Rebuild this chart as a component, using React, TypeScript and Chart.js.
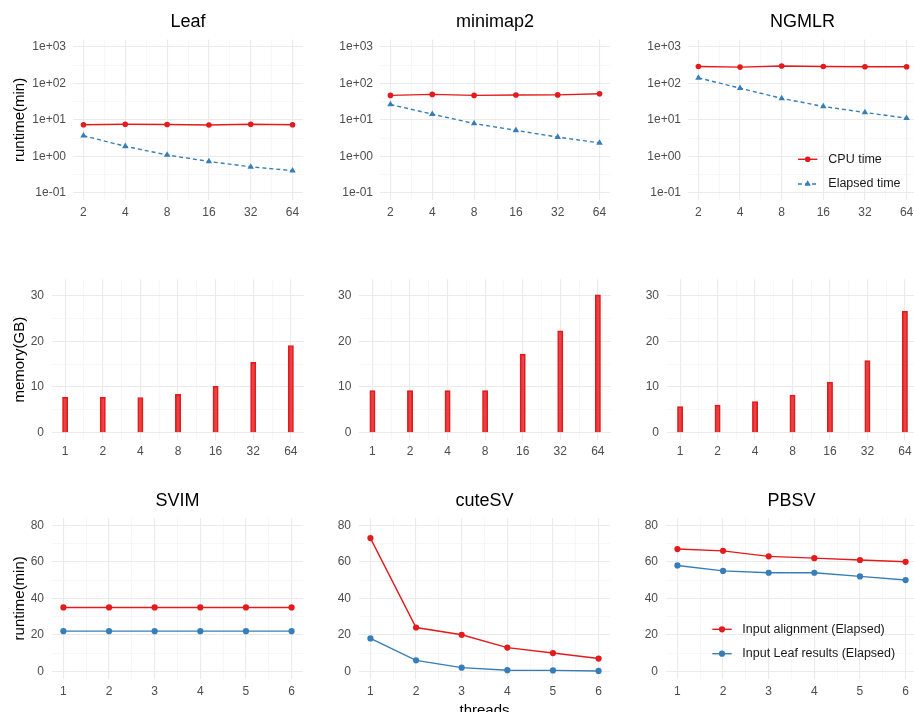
import React, { useEffect, useRef } from 'react';
import { Chart, registerables } from 'chart.js';

Chart.register(...registerables);

const FONT = "'Liberation Sans', Arial, Helvetica, sans-serif";
Chart.defaults.font.family = FONT;

const RED = '#E41A1C';
const BLUE = '#377EB8';
const RED_FILL = 'rgba(228, 26, 28, 0.82)';
const GRID_MAJOR = '#EBEBEB';
const GRID_MINOR = '#F4F4F4';
const TICK_COLOR = '#4D4D4D';

// ---------------- data ----------------
const runtimeThreads = [2, 4, 8, 16, 32, 64];
const memoryThreads = [1, 2, 4, 8, 16, 32, 64];
const svThreads = [1, 2, 3, 4, 5, 6];

const leafCpuTime = [7.4, 7.6, 7.5, 7.3, 7.6, 7.4];
const leafElapsedTime = [3.7, 1.9, 1.1, 0.73, 0.52, 0.41];
const minimap2CpuTime = [47, 50, 47, 48, 48.5, 52];
const minimap2ElapsedTime = [26.5, 14.4, 8.0, 5.2, 3.4, 2.35];
const ngmlrCpuTime = [292, 280, 300, 290, 285, 285];
const ngmlrElapsedTime = [142, 74, 39, 23.4, 16, 11.2];

const leafMemory = [7.75, 7.75, 7.7, 8.4, 10.15, 15.4, 19.1];
const minimap2Memory = [9.2, 9.2, 9.2, 9.2, 17.2, 22.3, 30.2];
const ngmlrMemory = [5.7, 6.05, 6.8, 8.25, 11.1, 15.8, 26.6];

const svimAlignment = [35, 35, 35, 35, 35, 35];
const svimLeaf = [22, 22, 22, 22, 22, 22];
const cutesvAlignment = [73, 24, 20, 13, 10, 7];
const cutesvLeaf = [18, 6, 2, 0.6, 0.5, 0.2];
const pbsvAlignment = [67, 66, 63, 62, 61, 60];
const pbsvLeaf = [58, 55, 54, 54, 52, 50];

const runtimeLogTicks = [0.1, 1, 10, 100, 1000];
const runtimeLogTickLabels = ['1e-01', '1e+00', '1e+01', '1e+02', '1e+03'];
const memoryTicks = [0, 10, 20, 30];
const svRuntimeTicks = [0, 20, 40, 60, 80];

const alignerTitles = ['Leaf', 'minimap2', 'NGMLR'];
const svTitles = ['SVIM', 'cuteSV', 'PBSV'];
const runtimeSeriesLabels = ['CPU time', 'Elapsed time'];
const svSeriesLabels = ['Input alignment (Elapsed)', 'Input Leaf results (Elapsed)'];
const runtimeAxisTitle = 'runtime(min)';
const memoryAxisTitle = 'memory(GB)';
const threadsAxisTitle = 'threads';

const alignerCpu = [leafCpuTime, minimap2CpuTime, ngmlrCpuTime];
const alignerElapsed = [leafElapsedTime, minimap2ElapsedTime, ngmlrElapsedTime];
const alignerMemory = [leafMemory, minimap2Memory, ngmlrMemory];
const svAlignment = [svimAlignment, cutesvAlignment, pbsvAlignment];
const svLeaf = [svimLeaf, cutesvLeaf, pbsvLeaf];

// ---------------- layout ----------------
const COL_LEFT = [0, 307, 614];
const PANEL_W = 307;
const ROW_TOP = [0, 240, 470];
const ROW_H = [240, 230, 260];

type TickSpec = { value: number; major: boolean; text: string };

function withMinor(major: number[], labels: string[], log: boolean): TickSpec[] {
  const out: TickSpec[] = [];
  major.forEach((v, i) => {
    out.push({ value: v, major: true, text: labels[i] });
    if (i < major.length - 1) {
      const n = major[i + 1];
      out.push({ value: log ? Math.sqrt(v * n) : (v + n) / 2, major: false, text: '' });
    }
  });
  return out;
}

function axis(o: {
  type: string;
  min: number;
  max: number;
  ticks: TickSpec[];
  horizontal: boolean;
  size: number;
  padding: number;
  title?: any;
}) {
  return {
    type: o.type,
    min: o.min,
    max: o.max,
    offset: false,
    afterBuildTicks: (scale: any) => {
      scale.ticks = o.ticks.map((t) => ({ ...t }));
    },
    afterFit: (scale: any) => {
      if (o.horizontal) scale.height = o.size;
      else scale.width = o.size;
    },
    grid: {
      color: (ctx: any) => (ctx.tick && ctx.tick.major ? GRID_MAJOR : GRID_MINOR),
      lineWidth: (ctx: any) => (ctx.tick && ctx.tick.major ? 1.1 : 0.7),
      drawTicks: false,
      offset: false,
    },
    border: { display: false },
    ticks: {
      autoSkip: false,
      maxRotation: 0,
      minRotation: 0,
      padding: o.padding,
      color: TICK_COLOR,
      font: { family: FONT, size: 12 },
      callback: (_v: any, i: number, ticks: any[]) => (ticks[i] && ticks[i].text) || '',
    },
    title: o.title || { display: false },
  };
}

const centerTitle = {
  id: 'centerTitle',
  afterLayout(chart: any) {
    const t = chart.titleBlock;
    if (t && chart.chartArea) {
      t.left = chart.chartArea.left;
      t.right = chart.chartArea.right;
      t.width = t.right - t.left;
    }
  },
};

const insetLegend = {
  id: 'insetLegend',
  afterDraw(chart: any, _args: any, opts: any) {
    if (!opts || !opts.display) return;
    const { ctx, chartArea } = chart;
    const x0 = chartArea.right - opts.fromRight;
    chart.data.datasets.forEach((ds: any, i: number) => {
      const y = chartArea.bottom - opts.fromBottom + i * opts.spacing;
      ctx.save();
      ctx.strokeStyle = ds.borderColor;
      ctx.lineWidth = ds.borderWidth;
      ctx.setLineDash(ds.borderDash || []);
      ctx.beginPath();
      ctx.moveTo(x0, y);
      ctx.lineTo(x0 + opts.keyWidth, y);
      ctx.stroke();
      ctx.setLineDash([]);
      const cx = x0 + opts.keyWidth / 2;
      const r = ds.pointRadius;
      ctx.fillStyle = ds.borderColor;
      ctx.beginPath();
      if (ds.pointStyle === 'triangle') {
        let rad = 0;
        ctx.moveTo(cx + Math.sin(rad) * r, y - Math.cos(rad) * r);
        rad += (2 * Math.PI) / 3;
        ctx.lineTo(cx + Math.sin(rad) * r, y - Math.cos(rad) * r);
        rad += (2 * Math.PI) / 3;
        ctx.lineTo(cx + Math.sin(rad) * r, y - Math.cos(rad) * r);
        ctx.closePath();
      } else {
        ctx.arc(cx, y, r, 0, Math.PI * 2);
      }
      ctx.fill();
      ctx.fillStyle = '#1A1A1A';
      ctx.font = `12.5px ${FONT}`;
      ctx.textAlign = 'left';
      ctx.textBaseline = 'middle';
      ctx.fillText(ds.label, x0 + opts.textOffset, y);
      ctx.restore();
    });
  },
};

function titleOpts(text: string, top: number, bottom: number) {
  return {
    display: true,
    text,
    color: '#000000',
    font: { family: FONT, size: 18, weight: 'normal' },
    padding: { top, bottom },
  };
}

function yTitle(text: string) {
  return {
    display: true,
    text,
    color: '#000000',
    font: { family: FONT, size: 15 },
    padding: { top: 10.5, bottom: 0 },
  };
}

const runtimeYWidth = [73, 73, 74];
const memoryYWidth = [52, 52.3, 53];
const svYWidth = [52, 52, 52];

function runtimeConfig(c: number): any {
  const withLegend = c === 2;
  return {
    type: 'line',
    data: {
      datasets: [
        {
          label: runtimeSeriesLabels[0],
          data: runtimeThreads.map((t, i) => ({ x: t, y: alignerCpu[c][i] })),
          borderColor: RED,
          backgroundColor: RED,
          borderWidth: 1.4,
          pointStyle: 'circle',
          pointRadius: 2.8,
          pointBorderWidth: 0,
          pointBackgroundColor: RED,
          tension: 0,
        },
        {
          label: runtimeSeriesLabels[1],
          data: runtimeThreads.map((t, i) => ({ x: t, y: alignerElapsed[c][i] })),
          borderColor: BLUE,
          backgroundColor: BLUE,
          borderWidth: 1.4,
          borderDash: [4, 3],
          pointStyle: 'triangle',
          pointRadius: 3.7,
          pointBorderWidth: 0,
          pointBackgroundColor: BLUE,
          tension: 0,
        },
      ],
    },
    options: {
      responsive: false,
      maintainAspectRatio: false,
      animation: false,
      layout: { padding: { left: 0, right: 3, top: 0, bottom: 0 } },
      plugins: {
        legend: { display: false },
        tooltip: { enabled: false },
        title: titleOpts(alignerTitles[c], 11, 7),
        insetLegend: withLegend
          ? { display: true, fromRight: 119, fromBottom: 41, spacing: 24.7, keyWidth: 19.4, textOffset: 30.3 }
          : { display: false },
      },
      scales: {
        x: axis({
          type: 'logarithmic',
          min: Math.pow(2, 0.75),
          max: Math.pow(2, 6.25),
          ticks: withMinor(runtimeThreads, runtimeThreads.map(String), true),
          horizontal: true,
          size: 39.7,
          padding: 5,
        }),
        y: axis({
          type: 'logarithmic',
          min: Math.pow(10, -1.2),
          max: Math.pow(10, 3.2),
          ticks: withMinor(runtimeLogTicks, runtimeLogTickLabels, true),
          horizontal: false,
          size: runtimeYWidth[c],
          padding: 7,
          title: c === 0 ? yTitle(runtimeAxisTitle) : undefined,
        }),
      },
    },
    plugins: withLegend ? [centerTitle, insetLegend] : [centerTitle],
  };
}

function memoryConfig(c: number): any {
  return {
    type: 'bar',
    data: {
      datasets: [
        {
          label: memoryAxisTitle,
          data: memoryThreads.map((t, i) => ({ x: t, y: alignerMemory[c][i] })),
          backgroundColor: RED_FILL,
          borderColor: RED,
          borderWidth: 1,
          barThickness: 5.3,
        },
      ],
    },
    options: {
      responsive: false,
      maintainAspectRatio: false,
      animation: false,
      layout: { padding: { left: 0, right: 3, top: 39.3, bottom: 0 } },
      plugins: {
        legend: { display: false },
        tooltip: { enabled: false },
        title: { display: false },
      },
      scales: {
        x: axis({
          type: 'logarithmic',
          min: Math.pow(2, -0.35),
          max: Math.pow(2, 6.35),
          ticks: withMinor(memoryThreads, memoryThreads.map(String), true),
          horizontal: true,
          size: 30,
          padding: 4,
        }),
        y: axis({
          type: 'linear',
          min: -1.6,
          max: 33.6,
          ticks: withMinor(memoryTicks, memoryTicks.map(String), false),
          horizontal: false,
          size: memoryYWidth[c],
          padding: 8,
          title: c === 0 ? yTitle(memoryAxisTitle) : undefined,
        }),
      },
    },
    plugins: [centerTitle],
  };
}

function svConfig(c: number): any {
  const withLegend = c === 2;
  const mk = (label: string, vals: number[], color: string) => ({
    label,
    data: svThreads.map((t, i) => ({ x: t, y: vals[i] })),
    borderColor: color,
    backgroundColor: color,
    borderWidth: 1.4,
    pointStyle: 'circle',
    pointRadius: 3.1,
    pointBorderWidth: 0,
    pointBackgroundColor: color,
    tension: 0,
  });
  return {
    type: 'line',
    data: {
      datasets: [mk(svSeriesLabels[0], svAlignment[c], RED), mk(svSeriesLabels[1], svLeaf[c], BLUE)],
    },
    options: {
      responsive: false,
      maintainAspectRatio: false,
      animation: false,
      layout: { padding: { left: 0, right: 3, top: 0, bottom: 0 } },
      plugins: {
        legend: { display: false },
        tooltip: { enabled: false },
        title: titleOpts(svTitles[c], 20, 6.4),
        insetLegend: withLegend
          ? { display: true, fromRight: 204.7, fromBottom: 49.3, spacing: 24.4, keyWidth: 19.4, textOffset: 30 }
          : { display: false },
      },
      scales: {
        x: axis({
          type: 'linear',
          min: 0.75,
          max: 6.25,
          ticks: withMinor(svThreads, svThreads.map(String), false),
          horizontal: true,
          size: 51.4,
          padding: 5.5,
          title:
            c === 1
              ? {
                  display: true,
                  text: threadsAxisTitle,
                  color: '#000000',
                  font: { family: FONT, size: 15 },
                  padding: { top: 0, bottom: 10 },
                }
              : undefined,
        }),
        y: axis({
          type: 'linear',
          min: -4,
          max: 84,
          ticks: withMinor(svRuntimeTicks, svRuntimeTicks.map(String), false),
          horizontal: false,
          size: svYWidth[c],
          padding: 8,
          title: c === 0 ? yTitle(runtimeAxisTitle) : undefined,
        }),
      },
    },
    plugins: withLegend ? [centerTitle, insetLegend] : [centerTitle],
  };
}

function Panel(props: { left: number; top: number; width: number; height: number; make: () => any }) {
  const ref = useRef<HTMLCanvasElement>(null);
  useEffect(() => {
    if (!ref.current) return;
    const chart = new Chart(ref.current, props.make());
    return () => chart.destroy();
  }, []);
  return (
    <canvas
      ref={ref}
      width={props.width}
      height={props.height}
      style={{ position: 'absolute', left: props.left, top: props.top, width: props.width, height: props.height }}
    />
  );
}

export default function App() {
  const panels: any[] = [];
  [0, 1, 2].forEach((c) => {
    panels.push({ key: `r${c}`, row: 0, c, make: () => runtimeConfig(c) });
    panels.push({ key: `m${c}`, row: 1, c, make: () => memoryConfig(c) });
    panels.push({ key: `s${c}`, row: 2, c, make: () => svConfig(c) });
  });
  return (
    <div
      style={{
        position: 'absolute',
        left: 0,
        top: 0,
        width: 914,
        height: 712,
        overflow: 'hidden',
        background: '#FFFFFF',
      }}
    >
      {panels.map((p) => (
        <Panel
          key={p.key}
          left={COL_LEFT[p.c]}
          top={ROW_TOP[p.row]}
          width={PANEL_W}
          height={ROW_H[p.row]}
          make={p.make}
        />
      ))}
    </div>
  );
}
